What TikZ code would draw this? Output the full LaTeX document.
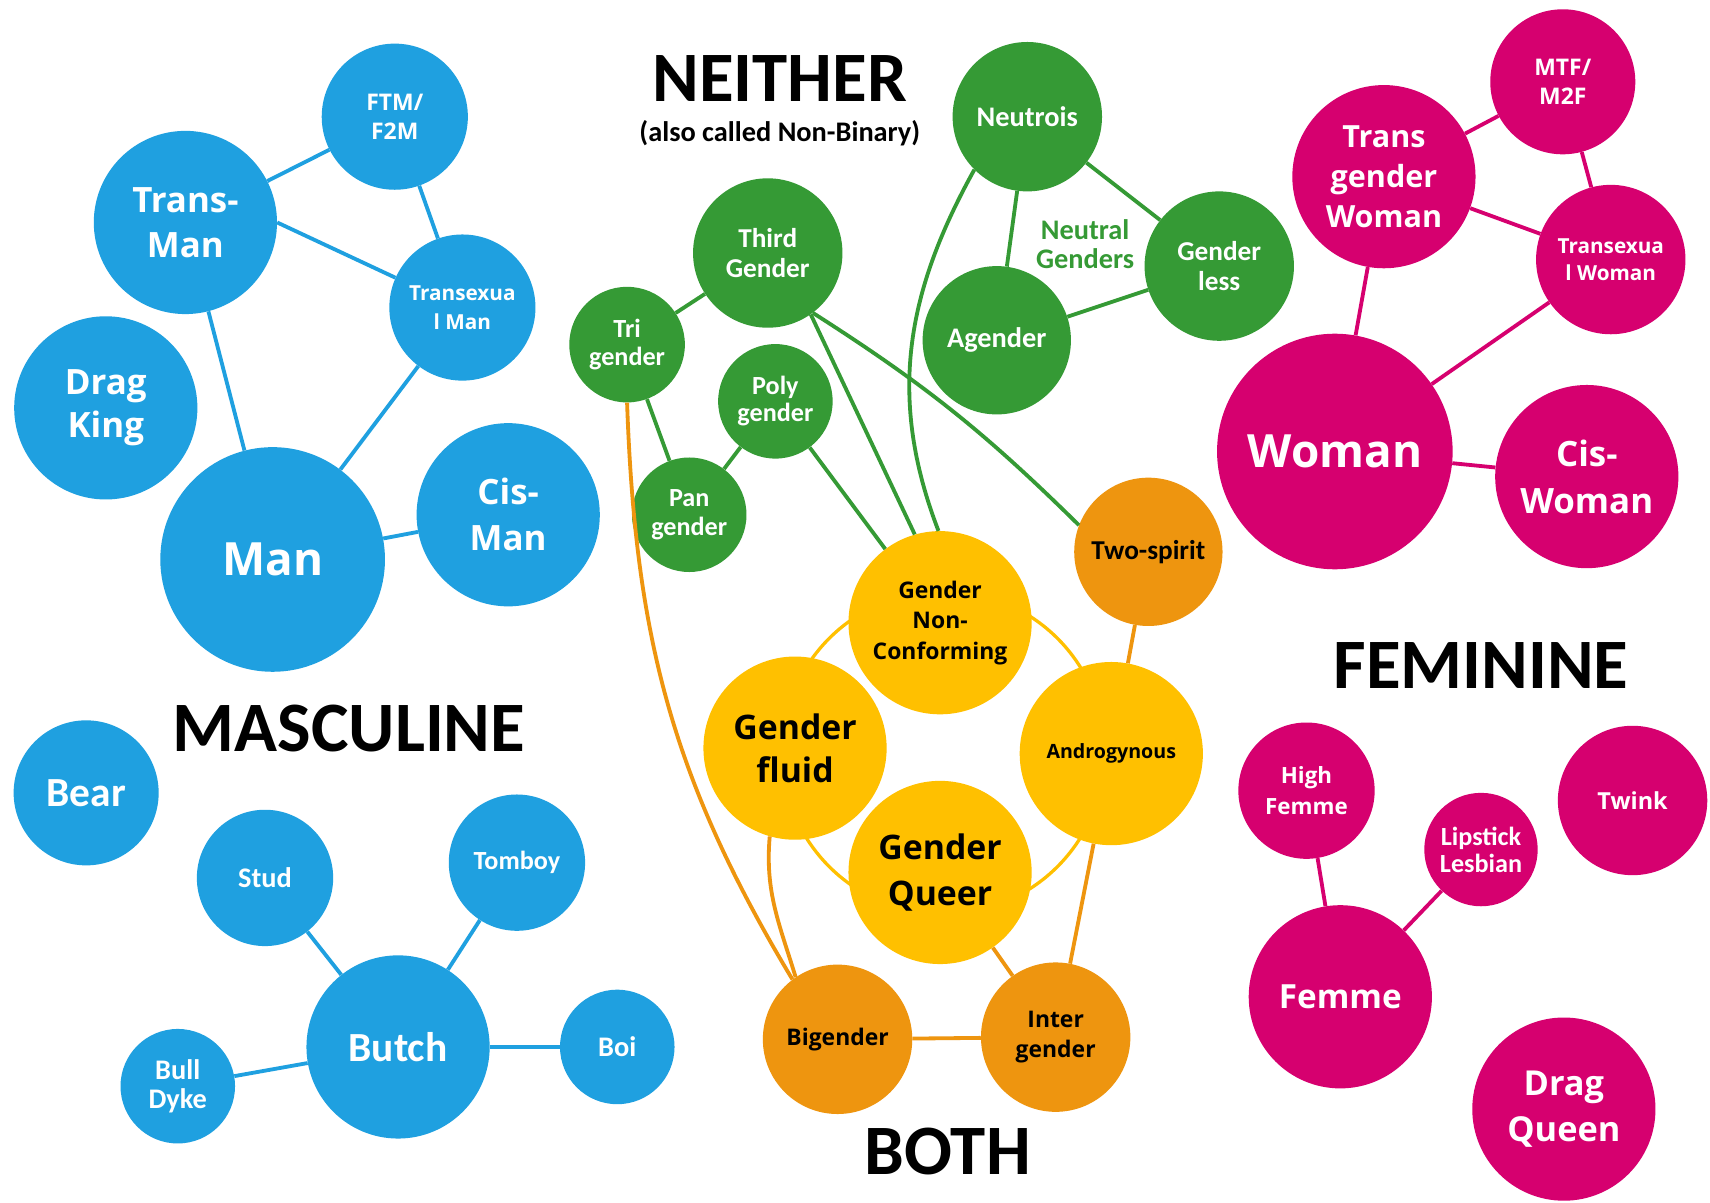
\documentclass[tikz,border=0pt]{standalone}
\usepackage{fontspec}
\setmainfont{Carlito}
\newfontfamily\tahoma{Open Sans}
\definecolor{mblue}{HTML}{1FA0E0}
\definecolor{ngreen}{HTML}{359A35}
\definecolor{fpink}{HTML}{D6006F}
\definecolor{byellow}{HTML}{FFC000}
\definecolor{borange}{HTML}{EE950F}

\begin{document}
\begin{tikzpicture}[x=1pt, y=1pt,
    bubble/.style={circle, inner sep=0pt, minimum size=#1pt, align=center},
    mascb/.style={bubble=#1, fill=mblue, text=white},
    neitb/.style={bubble=#1, fill=ngreen, text=white},
    femb/.style={bubble=#1, fill=fpink, text=white},
    bothy/.style={bubble=#1, fill=byellow, text=black},
    botho/.style={bubble=#1, fill=borange, text=black},
    tah/.style 2 args={font=\tahoma\bfseries\fontsize{#1}{#2}\selectfont},
    cal/.style 2 args={font=\bfseries\fontsize{#1}{#2}\selectfont},
    head/.style={font=\bfseries\fontsize{65}{65}\selectfont},
    link/.style={line width=3.5pt},
    mascl/.style={link, draw=mblue},
    neitl/.style={link, draw=ngreen},
    feml/.style={link, draw=fpink},
    bothl/.style={link, draw=borange}
]
\fill[white] (0,0) rectangle (1568,-1103);
\useasboundingbox (0,0) rectangle (1568,-1103);

% ring behind the yellow group
\draw[link, draw=byellow, line width=3pt] (865,-690) circle (148pt);

% masculine
\node[mascb=134, tah={21}{27}] (ftm) at (362,-107) {FTM/\\F2M};
\node[mascb=168, tah={32}{41}] (transman) at (170,-204) {Trans-\\Man};
\node[mascb=134, tah={19}{26}] (tsman) at (424,-282) {Transexua\\l Man};
\node[mascb=168, tah={32}{40}] (dragking) at (97,-374) {Drag\\King};
\node[mascb=206, tah={42}{44}] (man) at (250,-513) {Man};
\node[mascb=168, tah={32}{42}] (cisman) at (466,-472) {Cis-\\Man};
\node[mascb=133, cal={38}{40}] (bear) at (79,-727) {Bear};
\node[mascb=125, cal={26}{28}] (stud) at (243,-805) {Stud};
\node[mascb=125, cal={24}{26}] (tomboy) at (474,-791) {Tomboy};
\node[mascb=168, cal={38}{40}] (butch) at (365,-960) {Butch};
\node[mascb=105, cal={26}{27}] (bulldyke) at (163,-996) {Bull\\Dyke};
\node[mascb=105, cal={26}{28}] (boi) at (566,-960) {Boi};

% neither
\node[neitb=137, cal={26}{28}] (neutrois) at (942,-107) {Neutrois};
\node[neitb=137, cal={25}{28}] (third) at (704,-232) {Third\\Gender};
\node[neitb=106, cal={24}{25}] (tri) at (575,-316) {Tri\\gender};
\node[neitb=105, cal={24}{25}] (poly) at (711,-368) {Poly\\gender};
\node[neitb=105, cal={24}{27}] (pan) at (632,-472) {Pan\\gender};
\node[neitb=136, cal={26}{28}] (agender) at (914,-312) {Agender};
\node[neitb=137, cal={25}{27}] (genderless) at (1118,-244) {Gender\\less};
\node[cal={26}{27}, text=ngreen, align=center] (neutral) at (995,-224) {Neutral\\Genders};

% both
\node[bothy=168, tah={21}{28}] (gnc) at (862,-571) {Gender\\Non-\\Conforming};
\node[bothy=168, tah={31}{40}] (fluid) at (729,-686) {Gender\\fluid};
\node[bothy=168, tah={18}{20}] (andro) at (1019,-691) {Androgynous};
\node[bothy=168, tah={31}{42}] (queer) at (862,-800) {Gender\\Queer};
\node[botho=136, cal={25}{27}] (twospirit) at (1053,-506) {Two-spirit};
\node[botho=137, tah={21}{23}] (bigender) at (768,-953) {Bigender};
\node[botho=137, tah={21}{28}] (inter) at (968,-951) {Inter\\gender};

% feminine
\node[femb=133, tah={21}{27}] (mtf) at (1433,-75) {MTF/\\M2F};
\node[femb=168, tah={28}{37}] (tgwoman) at (1269,-162) {Trans\\gender\\Woman};
\node[femb=137, tah={19}{25}] (tswoman) at (1477,-238) {Transexua\\l Woman};
\node[femb=216, tah={42}{44}] (woman) at (1224,-414) {Woman};
\node[femb=168, tah={32}{43}] (ciswoman) at (1455,-437) {Cis-\\Woman};
\node[femb=125, tah={20.5}{28}] (highfemme) at (1198,-725) {High\\Femme};
\node[femb=104, cal={24}{25}] (lipstick) at (1358,-779) {Lipstick\\Lesbian};
\node[femb=137, tah={21.5}{23}] (twink) at (1497,-734) {Twink};
\node[femb=168, tah={30.5}{32}] (femme) at (1229,-914) {Femme};
\node[femb=168, tah={31.5}{42}] (dragqueen) at (1434,-1017) {Drag\\Queen};

% headings
\node[head] (neither) at (715,-72) {NEITHER};
\node[cal={26}{28}] (nonbinary) at (715,-122) {(also called Non-Binary)};
\node[head] (masculine) at (320,-668) {MASCULINE};
\node[head] (feminine) at (1358,-610) {FEMININE};
\node[head] (bothlabel) at (869,-1056) {BOTH};

\draw[mascl] (transman) -- (ftm);
\draw[mascl] (ftm) -- (tsman);
\draw[mascl] (transman.0) -- (tsman.156);
\draw[mascl] (transman) -- (man);
\draw[mascl] (tsman) -- (man);
\draw[mascl] (man) -- (cisman);
\draw[mascl] (stud) -- (butch);
\draw[mascl] (tomboy) -- (butch);
\draw[mascl] (bulldyke) -- (butch);
\draw[mascl] (butch) -- (boi);

\draw[neitl] (third) -- (tri);
\draw[neitl] (tri) -- (pan);
\draw[neitl] (poly) -- (pan);
\draw[neitl] (poly) -- (gnc);
\draw[neitl] (third.-55) -- (gnc.106);
\draw[neitl] (third.-53) to[bend left=6] (twospirit.159);
\draw[neitl] (neutrois) -- (agender);
\draw[neitl] (neutrois) -- (genderless);
\draw[neitl] (agender) -- (genderless);
\draw[neitl] (neutrois.225) to[out=241, in=111] (gnc.91);

\draw[bothl] (tri.south) to[out=272, in=121] (bigender.127);
\draw[bothl] (fluid.254) to[out=265, in=107] (bigender.124);
\draw[bothl] (twospirit) -- (andro);
\draw[bothl] (andro) -- (inter);
\draw[bothl] (queer) -- (inter);
\draw[bothl] (bigender) -- (inter);

\draw[feml] (tgwoman) -- (mtf);
\draw[feml] (mtf) -- (tswoman);
\draw[feml] (tgwoman) -- (tswoman);
\draw[feml] (tgwoman) -- (woman);
\draw[feml] (tswoman) -- (woman);
\draw[feml] (woman) -- (ciswoman);
\draw[feml] (highfemme) -- (femme);
\draw[feml] (lipstick) -- (femme);
\end{tikzpicture}
\end{document}
